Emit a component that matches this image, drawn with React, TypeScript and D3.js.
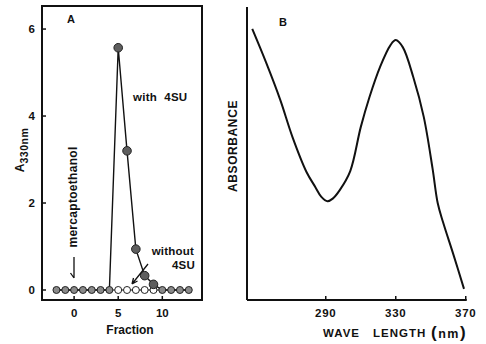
import React from "react";
import * as d3 from "d3";

// panel A: elution profile
const fractions = [-2, -1, 0, 1, 2, 3, 4, 5, 6, 7, 8, 9, 10, 11, 12, 13];
const with4SU = [0, 0, 0, 0, 0, 0, 0, 5.57, 3.2, 0.94, 0.33, 0.13, 0, 0, 0, 0];
const without4SU = [0, 0, 0, 0, 0, 0, 0, 0, 0, 0, 0, 0, 0, 0, 0, 0];
const yTicksA = [0, 2, 4, 6];
const xTicksA = [0, 5, 10];

// panel B: absorbance spectrum
const wavelength = [248, 256, 264, 271, 279, 284, 287.5, 291, 294, 298, 304, 310, 315, 321, 327, 330, 334, 340, 346, 351, 354, 357, 363, 369];
const absorbance = [0.925, 0.809, 0.683, 0.556, 0.437, 0.386, 0.352, 0.337, 0.346, 0.375, 0.44, 0.59, 0.693, 0.795, 0.87, 0.887, 0.863, 0.761, 0.625, 0.45, 0.33, 0.266, 0.154, 0.038];
const xTicksB = [290, 330, 370];

const FONT = "'Liberation Sans', Arial, sans-serif";

export default function App() {
  const xA = d3.scaleLinear().domain([-3.64, 14.5]).range([42, 202]);
  const yA = d3.scaleLinear().domain([-0.23, 6.53]).range([300, 6]);

  const xB = d3.scaleLinear().domain([245, 370]).range([247, 465.75]);
  const yB = d3.scaleLinear().domain([0, 1]).range([300, 7]);

  const ptsWith = fractions.map((f, i) => [f, with4SU[i]] as [number, number]);
  const ptsWithout = fractions.map((f, i) => [f, without4SU[i]] as [number, number]);
  const lineA = d3.line<[number, number]>().x(d => xA(d[0])).y(d => yA(d[1]));

  const spec = wavelength.map((w, i) => [w, absorbance[i]] as [number, number]);
  const lineB = d3.line<[number, number]>()
    .x(d => xB(d[0]))
    .y(d => yB(d[1]))
    .curve(d3.curveCatmullRom.alpha(0.5));

  const [a0, a1] = xA.range();
  const [b0, b1] = yA.range();

  return (
    <svg width={486} height={344} style={{ position: "absolute", left: 0, top: 0, background: "#fff" }}
      fontFamily={FONT} fontWeight="bold" fill="#111">
      {/* ---------- panel A ---------- */}
      <rect x={a0} y={b1} width={a1 - a0} height={b0 - b1} fill="none" stroke="#111" strokeWidth={2} />
      {yTicksA.map(t => (
        <g key={"ya" + t}>
          <line x1={a0} x2={a0 + 4} y1={yA(t)} y2={yA(t)} stroke="#111" strokeWidth={1.5} />
          <text x={35} y={yA(t)} dy="0.36em" textAnchor="end" fontSize={11.5}>{t}</text>
        </g>
      ))}
      {xTicksA.map(t => (
        <g key={"xa" + t}>
          <line x1={xA(t)} x2={xA(t)} y1={b0} y2={b0 - 4} stroke="#111" strokeWidth={1.5} />
          <text x={xA(t)} y={317} textAnchor="middle" fontSize={11.5}>{t}</text>
        </g>
      ))}
      <text x={130} y={334} textAnchor="middle" fontSize={12}>Fraction</text>
      <text transform="translate(24,150) rotate(-90)" textAnchor="middle" fontSize={12}>
        A<tspan fontSize={10.5} dy={4} letterSpacing={0.5}>330nm</tspan>
      </text>
      <text x={71} y={23} textAnchor="middle" fontSize={11}>A</text>

      <path d={lineA(ptsWithout) || ""} fill="none" stroke="#111" strokeWidth={1.2} />
      <path d={lineA(ptsWith) || ""} fill="none" stroke="#111" strokeWidth={1.4} />
      {fractions.map((f, i) => with4SU[i] === 0 ? (
        <circle key={"b" + f} cx={xA(f)} cy={yA(0)} r={3.5} fill="#8a8a8a" stroke="#222" strokeWidth={1} />
      ) : (
        <g key={"p" + f}>
          <circle cx={xA(f)} cy={yA(without4SU[i])} r={3.5} fill="#fff" stroke="#222" strokeWidth={1} />
          <circle cx={xA(f)} cy={yA(with4SU[i])} r={4.3} fill="#5e5e5e" stroke="#222" strokeWidth={1} />
        </g>
      ))}

      <text x={133} y={101} fontSize={11.5} letterSpacing={0.3} xmlSpace="preserve">with  4SU</text>
      <text x={194} y={255} textAnchor="end" fontSize={11.5} letterSpacing={0.2}>without</text>
      <text x={195} y={269} textAnchor="end" fontSize={11.5} letterSpacing={0.2}>4SU</text>
      <path d="M148,264 L132,284 M132,284 L133.5,278 M132,284 L137.5,281" fill="none" stroke="#111" strokeWidth={1.3} />

      <text transform="translate(77,197) rotate(-90)" textAnchor="middle" fontSize={12} letterSpacing={0.3}>mercaptoethanol</text>
      <path d="M74,257 L74,278 M74,278 L70.5,273" fill="none" stroke="#111" strokeWidth={1.3} />

      {/* ---------- panel B ---------- */}
      <line x1={xB(245)} x2={xB(245)} y1={yB(1)} y2={yB(0)} stroke="#111" strokeWidth={2} />
      <line x1={xB(245)} x2={xB(370) + 1} y1={yB(0)} y2={yB(0)} stroke="#111" strokeWidth={2} />
      {xTicksB.map(t => (
        <g key={"xb" + t}>
          <line x1={xB(t)} x2={xB(t)} y1={yB(0)} y2={yB(0) - 4} stroke="#111" strokeWidth={1.5} />
          <text x={xB(t)} y={317} textAnchor="middle" fontSize={11.5} letterSpacing={0.8}>{t}</text>
        </g>
      ))}
      <path d={lineB(spec) || ""} fill="none" stroke="#111" strokeWidth={2} />
      <text x={283} y={26} textAnchor="middle" fontSize={11}>B</text>
      <text transform="translate(237,146) rotate(-90)" textAnchor="middle" fontSize={12} letterSpacing={0.6}>ABSORBANCE</text>
      <text x={323} y={337} fontSize={11.5} letterSpacing={1}>WAVE</text>
      <text x={373} y={337} fontSize={11.5} letterSpacing={1}>LENGTH</text>
      <text x={431} y={338} fontSize={12.5} letterSpacing={1.5}>
        <tspan fontSize={17}>(</tspan>nm<tspan fontSize={17}>)</tspan>
      </text>
    </svg>
  );
}
